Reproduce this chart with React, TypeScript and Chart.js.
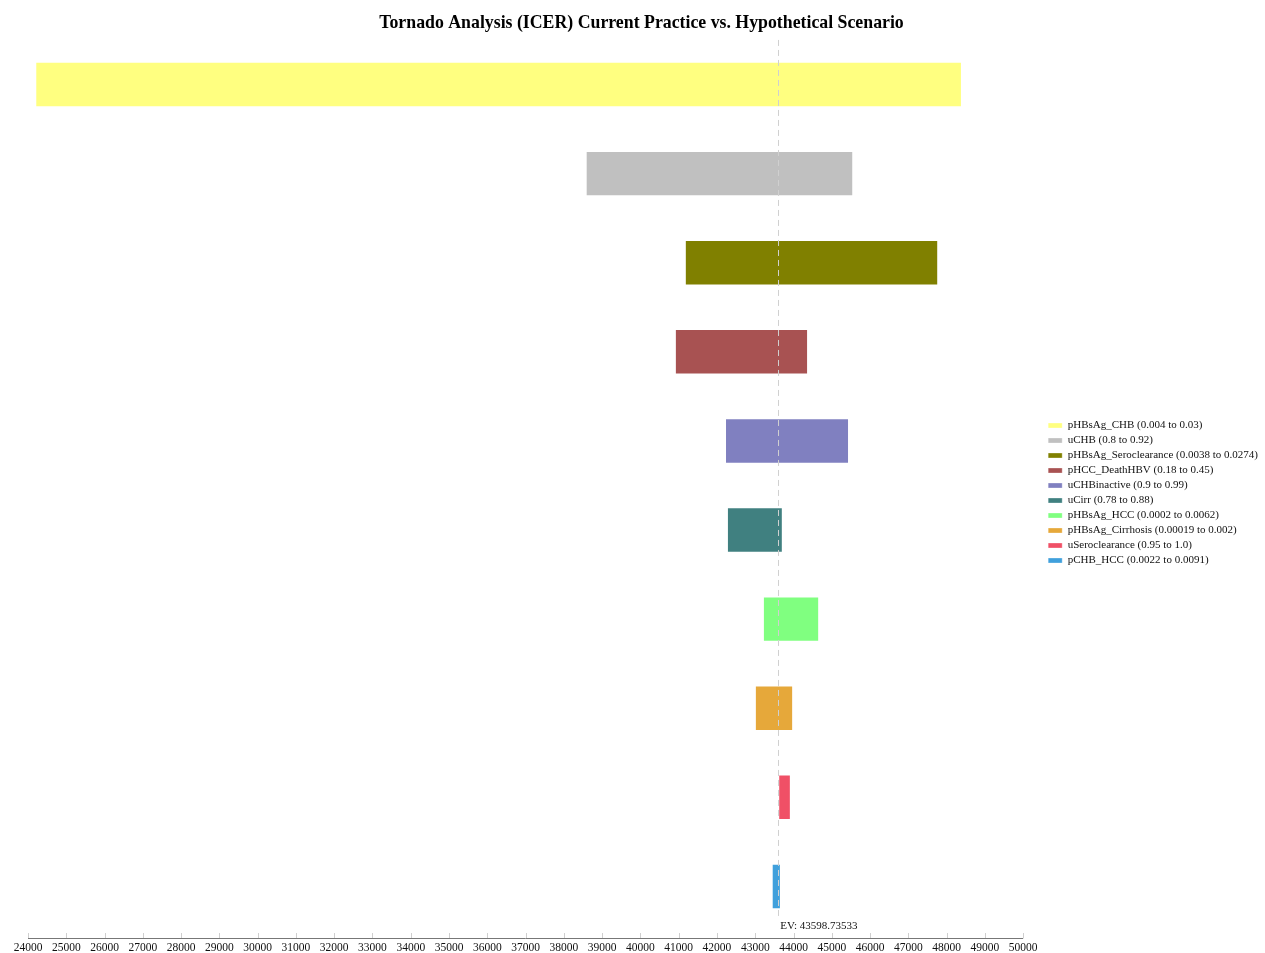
import React, { useEffect, useRef } from "react";
import { Chart, registerables } from "chart.js";

Chart.register(...registerables);

const TITLE = "Tornado Analysis (ICER) Current Practice vs. Hypothetical Scenario";
const PARAMS = [
  "pHBsAg_CHB (0.004 to 0.03)",
  "uCHB (0.8 to 0.92)",
  "pHBsAg_Seroclearance (0.0038 to 0.0274)",
  "pHCC_DeathHBV (0.18 to 0.45)",
  "uCHBinactive (0.9 to 0.99)",
  "uCirr (0.78 to 0.88)",
  "pHBsAg_HCC (0.0002 to 0.0062)",
  "pHBsAg_Cirrhosis (0.00019 to 0.002)",
  "uSeroclearance (0.95 to 1.0)",
  "pCHB_HCC (0.0022 to 0.0091)",
];
const LOWS = [24190, 38570, 41160, 40900, 42210, 42260, 43200, 42990, 43600, 43430];
const HIGHS = [48400, 45560, 47780, 44380, 45450, 43720, 44670, 43990, 43930, 43670];
const COLORS = [
  "#ffff80",
  "#c0c0c0",
  "#808000",
  "#a85252",
  "#8080c0",
  "#408080",
  "#80ff80",
  "#e6a83a",
  "#f05066",
  "#40a0dc",
];
const EV = 43598.73533;
const X_MIN = 24000;
const X_MAX = 50000;
const X_STEP = 1000;

const FONT = "'Liberation Serif', 'Times New Roman', serif";

const evPlugin = {
  id: "evLine",
  afterDatasetsDraw(chart: any) {
    const { ctx, chartArea, scales } = chart;
    const x = scales.x.getPixelForValue(EV);
    ctx.save();
    ctx.strokeStyle = "#d0d0d0";
    ctx.lineWidth = 1;
    ctx.setLineDash([6, 4]);
    ctx.beginPath();
    ctx.moveTo(Math.round(x) + 0.5, chartArea.top);
    ctx.lineTo(Math.round(x) + 0.5, chartArea.bottom - 14);
    ctx.stroke();
    ctx.setLineDash([]);
    ctx.fillStyle = "#111";
    ctx.font = `11px ${FONT}`;
    ctx.textBaseline = "middle";
    ctx.textAlign = "left";
    ctx.fillText(`EV: ${EV}`, x + 2, chartArea.bottom - 5);
    // axis line with upward tick marks
    const yAxis = chartArea.bottom + 7;
    ctx.strokeStyle = "#cfcfcf";
    const ticks = scales.x.ticks;
    for (let i = 0; i < ticks.length; i++) {
      const tx = Math.round(scales.x.getPixelForValue(ticks[i].value)) + 0.5;
      ctx.beginPath();
      ctx.moveTo(tx, yAxis - 5);
      ctx.lineTo(tx, yAxis);
      ctx.stroke();
    }
    ctx.strokeStyle = "#777";
    ctx.beginPath();
    ctx.moveTo(chartArea.left, Math.round(yAxis) + 0.5);
    ctx.lineTo(chartArea.right, Math.round(yAxis) + 0.5);
    ctx.stroke();
    ctx.restore();
  },
};

export default function App() {
  const ref = useRef<HTMLCanvasElement>(null);
  useEffect(() => {
    if (!ref.current) return;
    Chart.defaults.font.family = FONT;
    const datasets = PARAMS.map((label, i) => ({
      label,
      data: PARAMS.map((_, j) => (j === i ? [LOWS[i], HIGHS[i]] : null)),
      backgroundColor: COLORS[i],
      borderColor: "rgba(255,255,255,0.3)",
      borderWidth: 1,
      borderSkipped: false,
      barPercentage: 0.51,
      categoryPercentage: 1,
    }));
    const chart = new Chart(ref.current, {
      type: "bar",
      data: { labels: PARAMS, datasets: datasets as any },
      plugins: [evPlugin],
      options: {
        animation: false,
        responsive: false,
        indexAxis: "y",
        skipNull: true,
        layout: { padding: { left: 15, right: -3, top: 0, bottom: 0 } },
        plugins: {
          title: {
            display: true,
            text: TITLE,
            color: "#000",
            font: { size: 17.8, weight: "bold", family: FONT },
            padding: { top: 13, bottom: 5.6 },
          },
          legend: {
            position: "right",
            align: "center",
            fullSize: true,
            maxWidth: 280,
            title: { display: true, text: " ", font: { size: 10 }, padding: { top: 21, bottom: 0 } },
            labels: {
              boxWidth: 14,
              boxHeight: 5,
              padding: 4,
              color: "#111",
              font: { size: 11, family: FONT },
            },
          },
          tooltip: { enabled: false },
        },
        scales: {
          x: {
            type: "linear",
            min: X_MIN,
            max: X_MAX,
            grid: { display: false, drawTicks: false },
            border: { display: false },
            ticks: {
              stepSize: X_STEP,
              padding: 10,
              color: "#111",
              font: { size: 11.5, family: FONT },
              maxRotation: 0,
              autoSkip: false,
              callback: (v: any) => String(v),
            },
            afterFit: (s: any) => {
              s.height = 22;
            },
          },
          y: {
            type: "category",
            display: true,
            grid: { display: false, drawTicks: false },
            border: { display: false },
            ticks: { display: false },
            afterFit: (s: any) => {
              s.width = 13;
            },
          },
          spacer: {
            type: "linear",
            position: "right",
            display: true,
            grid: { display: false, drawTicks: false },
            border: { display: false },
            ticks: { display: false },
            afterFit: (s: any) => {
              s.width = 21;
            },
          },
        },
      } as any,
    });
    return () => chart.destroy();
  }, []);
  return (
    <div style={{ position: "fixed", left: 0, top: 0, width: 1265, height: 953, background: "#fff" }}>
      <canvas ref={ref} width={1265} height={953} style={{ width: 1265, height: 953 }} />
    </div>
  );
}
